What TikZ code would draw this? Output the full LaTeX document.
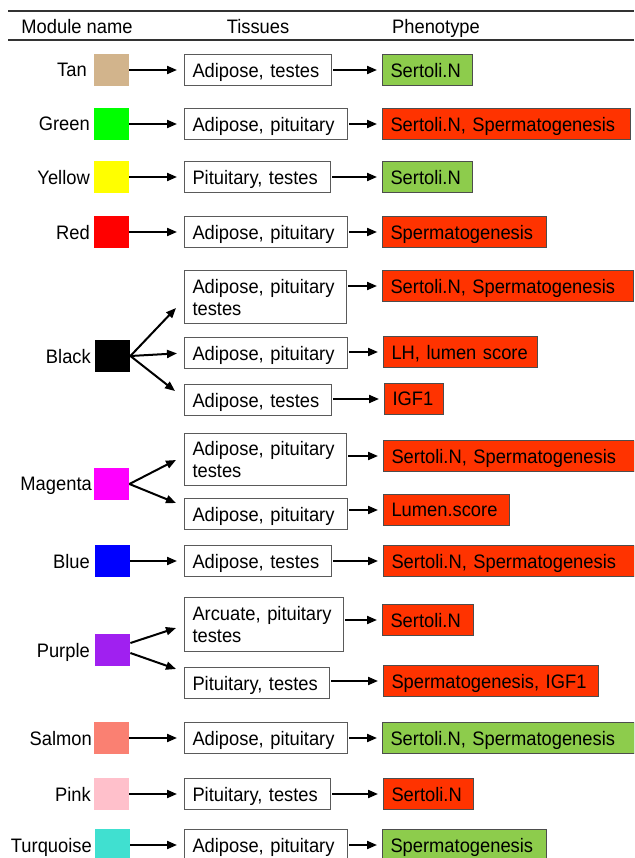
\documentclass[tikz,border=0pt]{standalone}
\usepackage{fontspec}
\setmainfont[FakeStretch=0.94]{Liberation Sans}
\usetikzlibrary{arrows.meta,calc}
\definecolor{ctan}{HTML}{D2B48C}
\definecolor{clime}{HTML}{00FF00}
\definecolor{cyellow}{HTML}{FFFF00}
\definecolor{cred}{HTML}{FF0000}
\definecolor{cmagenta}{HTML}{FF00FF}
\definecolor{cblue}{HTML}{0000FF}
\definecolor{cpurple}{HTML}{A020F0}
\definecolor{csalmon}{HTML}{FA8072}
\definecolor{cpink}{HTML}{FFC0CB}
\definecolor{cturq}{HTML}{40E0D0}
\definecolor{phred}{HTML}{FF3300}
\definecolor{phgreen}{HTML}{8DCC4C}
\definecolor{phborder}{HTML}{4D4D4D}
\definecolor{tisborder}{HTML}{5A5A5A}
\definecolor{rulecol}{HTML}{333333}
\begin{document}
\begin{tikzpicture}[x=1pt,y=-1pt,
  every node/.style={font=\fontsize{19.5}{22}\selectfont, text depth=0pt},
  hdr/.style={inner sep=0pt},
  lbl/.style={anchor=east, inner sep=0pt},
  sq/.style={anchor=west, minimum width=35pt, minimum height=32pt, inner sep=0pt},
  tis/.style={draw=tisborder, line width=1pt, fill=white, anchor=west, inner xsep=8pt, inner ysep=0pt, align=left, minimum height=31pt},
  tis2/.style={tis, text depth=22pt},
  phe/.style={draw=phborder, line width=1pt, anchor=west, inner xsep=8pt, inner ysep=0pt, align=left, minimum height=31pt},
  pr/.style={phe, fill=phred},
  pg/.style={phe, fill=phgreen},
  arr/.style={line width=2pt, -{Triangle[length=10pt,width=8pt]}},
  arrA/.style={arr, shorten >=7pt},
  arrB/.style={arr, shorten <=1pt, shorten >=5pt},
  rule/.style={draw=rulecol, line width=1.3pt}
]
\useasboundingbox (0,0) rectangle (634,858);
\fill[white] (0,0) rectangle (634,858);
\clip (0,0) rectangle (634,858);

\draw[rule] (8,11) -- (634,11);
\draw[rule] (8,40) -- (634,40);
\node[hdr] (hmod) at (77,26) {Module name};
\node[hdr] (htis) at (258,26) {Tissues};
\node[hdr] (hphe) at (436,26) {Phenotype};

% Tan
\node[lbl] (lTan) at (87,70) {Tan};
\node[sq, fill=ctan] (sTan) at (94,70) {};
\node[tis, text width=131pt] (tTan) at (184,70) {Adipose, testes};
\node[pg, text width=74pt] (pTan) at (382,70) {Sertoli.N};
\draw[arrA] (sTan.east) -- (tTan.west);
\draw[arrB] (tTan.east) -- (pTan.west);

% Green
\node[lbl] (lGreen) at (90,124) {Green};
\node[sq, fill=clime] (sGreen) at (94,124) {};
\node[tis, text width=147pt] (tGreen) at (184,124) {Adipose, pituitary};
\node[pr, text width=232pt] (pGreen) at (382,124) {Sertoli.N, Spermatogenesis};
\draw[arrA] (sGreen.east) -- (tGreen.west);
\draw[arrB] (tGreen.east) -- (pGreen.west);

% Yellow
\node[lbl] (lYellow) at (90,177) {Yellow};
\node[sq, fill=cyellow] (sYellow) at (94,177) {};
\node[tis, text width=130pt] (tYellow) at (184,177) {Pituitary, testes};
\node[pg, text width=74pt] (pYellow) at (382,177) {Sertoli.N};
\draw[arrA] (sYellow.east) -- (tYellow.west);
\draw[arrB] (tYellow.east) -- (pYellow.west);

% Red
\node[lbl] (lRed) at (90,232) {Red};
\node[sq, fill=cred] (sRed) at (94,232) {};
\node[tis, text width=147pt] (tRed) at (184,232) {Adipose, pituitary};
\node[pr, text width=148pt] (pRed) at (382,232) {Spermatogenesis};
\draw[arrA] (sRed.east) -- (tRed.west);
\draw[arrB] (tRed.east) -- (pRed.west);

% Black
\node[lbl] (lBlack) at (91,356) {Black};
\node[sq, fill=black] (sBk) at (95,356) {};
\node[tis2, text width=146pt, minimum height=52pt] (tBk1) at (184,297) {Adipose, pituitary\\testes};
\node[tis, text width=147pt] (tBk2) at (184,353) {Adipose, pituitary};
\node[tis, text width=131pt] (tBk3) at (184,400) {Adipose, testes};
\node[pr, text width=235pt] (pBk1) at (382,286) {Sertoli.N, Spermatogenesis};
\node[pr, text width=138pt] (pBk2) at (383,352) {LH, lumen score};
\node[pr, text width=43pt] (pBk3) at (384,399) {IGF1};
\coordinate (cBk1) at (176,308);
\coordinate (cBk3) at (175,391);
\draw[arr] (sBk.east) -- (cBk1);
\draw[arrA] (sBk.east) -- (tBk2.west);
\draw[arr] (sBk.east) -- (cBk3);
\draw[arrB] (tBk1.east |- pBk1.west) -- (pBk1.west);
\draw[arrB] (tBk2.east |- pBk2.west) -- (pBk2.west);
\draw[arrB] (tBk3.east |- pBk3.west) -- (pBk3.west);

% Magenta
\node[lbl] (lMagenta) at (92,484) {Magenta};
\node[sq, fill=cmagenta] (sMg) at (94,484) {};
\node[tis2, text width=146pt, minimum height=52pt] (tMg1) at (184,459) {Adipose, pituitary\\testes};
\node[tis, text width=147pt] (tMg2) at (184,514) {Adipose, pituitary};
\node[pr, text width=235pt] (pMg1) at (383,456) {Sertoli.N, Spermatogenesis};
\node[pr, text width=110pt] (pMg2) at (383,510) {Lumen.score};
\coordinate (cMg1) at (176,460);
\coordinate (cMg2) at (176,503);
\draw[arr] (sMg.east) -- (cMg1);
\draw[arr] (sMg.east) -- (cMg2);
\draw[arrB] (tMg1.east |- pMg1.west) -- (pMg1.west);
\draw[arrB] (tMg2.east |- pMg2.west) -- (pMg2.west);

% Blue
\node[lbl] (lBlue) at (90,561) {Blue};
\node[sq, fill=cblue] (sBlue) at (95,561) {};
\node[tis, text width=131pt] (tBlue) at (184,561) {Adipose, testes};
\node[pr, text width=235pt] (pBlue) at (383,561) {Sertoli.N, Spermatogenesis};
\draw[arrA] (sBlue.east) -- (tBlue.west);
\draw[arrB] (tBlue.east) -- (pBlue.west);

% Purple
\node[lbl] (lPurple) at (90,650) {Purple};
\node[sq, fill=cpurple] (sPu) at (95,650) {};
\node[tis2, text width=143pt, minimum height=54pt] (tPu1) at (184,624) {Arcuate, pituitary\\testes};
\node[tis, text width=129pt] (tPu2) at (184,683) {Pituitary, testes};
\node[pr, text width=75pt] (pPu1) at (382,620) {Sertoli.N};
\node[pr, text width=199pt] (pPu2) at (383,681) {Spermatogenesis, IGF1};
\coordinate (cPu1) at (176,628);
\coordinate (cPu2) at (176,669);
\draw[arr] ($(sPu.east)+(0,-7)$) -- (cPu1);
\draw[arr] ($(sPu.east)+(0,3)$) -- (cPu2);
\draw[arrB] (tPu1.east |- pPu1.west) -- (pPu1.west);
\draw[arrB] (tPu2.east |- pPu2.west) -- (pPu2.west);

% Salmon
\node[lbl] (lSalmon) at (92,738) {Salmon};
\node[sq, fill=csalmon] (sSalmon) at (94,738) {};
\node[tis, text width=147pt] (tSalmon) at (184,738) {Adipose, pituitary};
\node[pg, text width=236pt] (pSalmon) at (382,738) {Sertoli.N, Spermatogenesis};
\draw[arrA] (sSalmon.east) -- (tSalmon.west);
\draw[arrB] (tSalmon.east) -- (pSalmon.west);

% Pink
\node[lbl] (lPink) at (91,794) {Pink};
\node[sq, fill=cpink] (sPink) at (94,794) {};
\node[tis, text width=130pt] (tPink) at (184,794) {Pituitary, testes};
\node[pr, text width=74pt] (pPink) at (383,794) {Sertoli.N};
\draw[arrA] (sPink.east) -- (tPink.west);
\draw[arrB] (tPink.east) -- (pPink.west);

% Turquoise
\node[lbl] (lTurq) at (92,845) {Turquoise};
\node[sq, fill=cturq] (sTurq) at (95,845) {};
\node[tis, text width=147pt] (tTurq) at (184,845) {Adipose, pituitary};
\node[pg, text width=148pt] (pTurq) at (382,845) {Spermatogenesis};
\draw[arrA] (sTurq.east) -- (tTurq.west);
\draw[arrB] (tTurq.east) -- (pTurq.west);
\end{tikzpicture}
\end{document}
